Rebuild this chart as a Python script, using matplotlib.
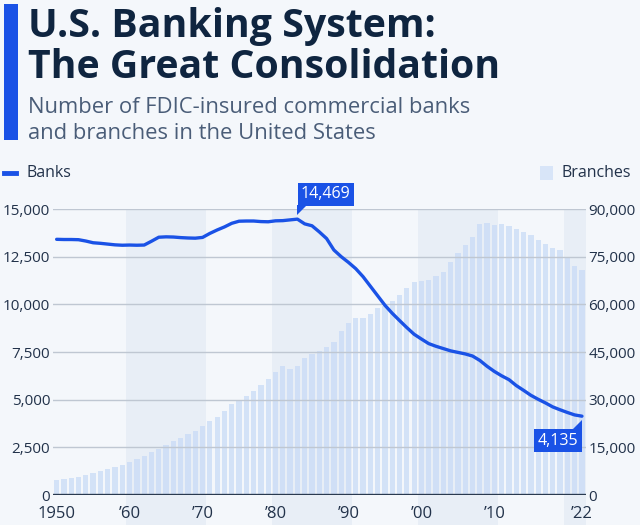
import numpy as np
import matplotlib.pyplot as plt
import matplotlib.transforms as mtransforms
from matplotlib.patches import Polygon, Rectangle
from matplotlib.lines import Line2D
from matplotlib.ticker import FuncFormatter

plt.rcParams['font.family'] = ['Open Sans', 'DejaVu Sans']

years = list(range(1950, 2023))
banks = [13410, 13400, 13400, 13390, 13320, 13230, 13200, 13160, 13120, 13100,
         13110, 13100, 13110, 13310, 13520, 13540, 13530, 13500, 13480, 13470,
         13510, 13720, 13900, 14060, 14250, 14360, 14370, 14370, 14340, 14330,
         14380, 14390, 14430, 14469, 14220, 14120, 13800, 13450, 12850, 12500,
         12200, 11870, 11450, 10950, 10450, 9950, 9530, 9150, 8780, 8430,
         8180, 7940, 7800, 7680, 7560, 7480, 7400, 7290, 7060, 6750,
         6480, 6250, 6050, 5740, 5490, 5230, 5020, 4830, 4620, 4470,
         4330, 4200, 4135]
branches = [4720, 5140, 5350, 5770, 6290, 6920, 7550, 8180, 8920, 9550,
            10490, 11330, 12270, 13430, 14580, 15740, 16990, 17940, 19090, 20240,
            21610, 23180, 24650, 26540, 28530, 29900, 31160, 32840, 34620, 36510,
            38600, 40700, 39650, 40700, 43000, 44370, 45320, 46580, 48250, 51720,
            54030, 55700, 55700, 56860, 58950, 59580, 61050, 62940, 65140, 66930,
            67450, 67560, 68820, 70070, 73430, 76050, 78780, 81190, 85180, 85500,
            84870, 85180, 84760, 83710, 82660, 81720, 80250, 78880, 77730, 77000,
            74800, 72160, 70900]
xticks = [1950, 1960, 1970, 1980, 1990, 2000, 2010, 2022]
xlabels = ['1950', '\u201960', '\u201970', '\u201980', '\u201990', '\u201900', '\u201910', '\u201922']
band_starts = [1960, 1980, 2000, 2020]

bg = '#F4F7FB'
blue = '#1A52E6'
navy = '#0F2540'
tickc = '#22324A'

fig = plt.figure(figsize=(6.4, 5.25), dpi=100, facecolor=bg)
axb = fig.add_axes([0.0828, 0.0571, 0.8322, 0.5448])
ax = axb.twinx()
# banks on the left axis, branches on the right one
axb.yaxis.tick_right()
ax.yaxis.tick_left()
axb.set_facecolor(bg)
ax.patch.set_visible(False)

for s in band_starts:
    axb.axvspan(s - 0.5, min(s + 10, years[-1]) + 0.5, ymin=-0.12, ymax=1,
                color='#E8EEF6', lw=0, zorder=0, clip_on=False)

axb.bar(years, branches, width=0.72, color='#C6DAF6', alpha=0.7, zorder=1)
axb.set_ylim(0, 90000)
axb.set_yticks(range(0, 90001, 15000))
axb.set_xlim(1949.5, 2022.5)
axb.set_xticks(xticks)
axb.set_xticklabels(xlabels)

for v in range(2500, 15001, 2500):
    ax.axhline(v, color='#BFC7D2', lw=1, zorder=1)
ax.axhline(0, color='#2A3A50', lw=1.7, zorder=4)
ax.plot(years, banks, color=blue, lw=2.4, zorder=3, solid_capstyle='round')
ax.set_ylim(0, 15000)
ax.set_yticks(range(0, 15001, 2500))

fmt = FuncFormatter(lambda v, p: f'{int(v):,}')
ax.yaxis.set_major_formatter(fmt)
axb.yaxis.set_major_formatter(fmt)
ax.tick_params(axis='y', length=0, pad=2, labelsize=11, labelcolor=tickc)
axb.tick_params(axis='y', length=0, pad=2, labelsize=11, labelcolor=tickc)
axb.tick_params(axis='x', length=0, pad=8, labelsize=12, labelcolor=tickc)
for a in (ax, axb):
    for side in ('top', 'left', 'right', 'bottom'):
        a.spines[side].set_visible(False)

# value callouts
def callout(x, y, text, up):
    pts = mtransforms.Affine2D().scale(fig.dpi / 72) + mtransforms.ScaledTranslation(x, y, ax.transData)
    if up:
        tri = [(0, 3), (0, 10), (7, 10)]
        ax.annotate(text, (x, y), xytext=(2.6, 12), textcoords='offset points',
                    ha='left', va='bottom', color='white', fontsize=11.5,
                    bbox=dict(boxstyle='square,pad=0.22', fc=blue, ec='none'), zorder=6)
    else:
        tri = [(0, -3), (0, -10), (-7, -10)]
        ax.annotate(text, (x, y), xytext=(-2.6, -12), textcoords='offset points',
                    ha='right', va='top', color='white', fontsize=11.5,
                    bbox=dict(boxstyle='square,pad=0.22', fc=blue, ec='none'), zorder=6)
    ax.add_patch(Polygon(tri, closed=True, transform=pts, fc=blue, ec='none',
                         clip_on=False, zorder=6))

i_peak = int(np.argmax(banks))
callout(years[i_peak], banks[i_peak], f'{banks[i_peak]:,}', True)
callout(years[-1], banks[-1], f'{banks[-1]:,}', False)

# header
fig.add_artist(Rectangle((0.007, 0.733), 0.021, 0.259, transform=fig.transFigure,
                         fc=blue, ec='none'))
fig.text(0.043, 0.9295, 'U.S. Banking System:', fontsize=28.3, fontweight='bold',
         color=navy, va='baseline')
fig.text(0.043, 0.8514, 'The Great Consolidation', fontsize=28.3, fontweight='bold',
         color=navy, va='baseline')
fig.text(0.043, 0.7848, 'Number of FDIC-insured commercial banks', fontsize=15.8,
         color='#4A5D78', va='baseline')
fig.text(0.043, 0.7352, 'and branches in the United States', fontsize=15.8,
         color='#4A5D78', va='baseline')

# legend
fig.add_artist(Line2D([0.006, 0.025], [0.670, 0.670], transform=fig.transFigure,
                      color=blue, lw=3.5))
fig.text(0.042, 0.670, 'Banks', fontsize=11.5, color=tickc, va='center')
fig.add_artist(Rectangle((0.843, 0.657), 0.021, 0.027, transform=fig.transFigure,
                         fc='#D8E5F8', ec='none'))
fig.text(0.878, 0.670, 'Branches', fontsize=11.5, color=tickc, va='center')

fig.savefig('out.png', dpi=100, facecolor=bg)
